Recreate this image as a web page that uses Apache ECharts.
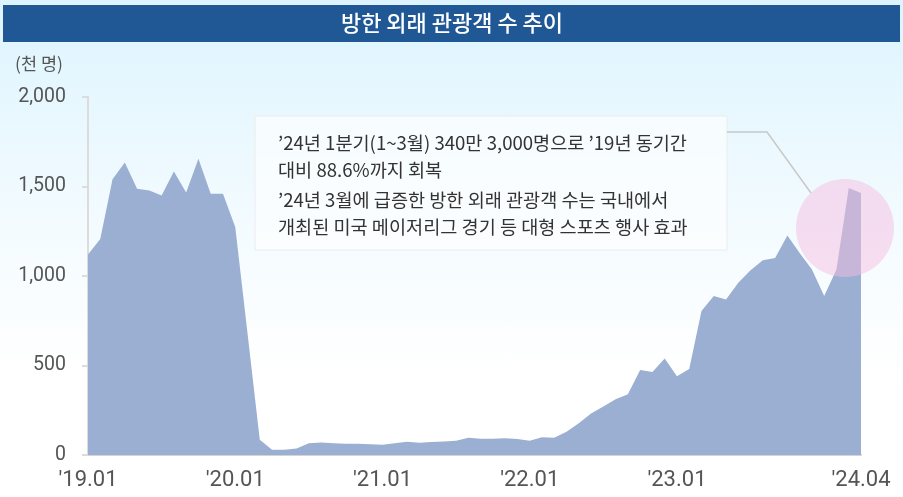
<!DOCTYPE html>
<html>
<head>
<meta charset="utf-8">
<script src="https://cdn.jsdelivr.net/npm/echarts@6/dist/echarts.min.js"></script>
<style>
  html, body { margin: 0; padding: 0; }
  body { background: linear-gradient(to bottom, #ddf4fe 0%, #f3fbff 45%, #ffffff 75%); }
  #chart { width: 903px; height: 497px; }
</style>
</head>
<body>
<div id="chart"></div>
<script>
// 월별 방한 외래 관광객 수 (천 명), '19.01 ~ '24.04
const years = ['19', '20', '21', '22', '23', '24']
const months = []
years.forEach(y => {
  for (let m = 1; m <= 12; m++) {
    if (y === '24' && m > 4) break
    months.push("'" + y + '.' + String(m).padStart(2, '0'))
  }
})

const visitors = [
  1120, 1207, 1541, 1634, 1487, 1478, 1450, 1584, 1467, 1655, 1460, 1460,
  1274, 680, 85, 30, 30, 37, 65, 70, 65, 63, 63, 60,
  57, 65, 74, 68, 72, 76, 80, 96, 91, 91, 93, 89,
  80, 99, 96, 130, 178, 232, 271, 312, 340, 475, 464, 539,
  440, 481, 804, 888, 869, 962, 1032, 1088, 1101, 1226, 1129, 1036,
  888, 1036, 1491, 1463
]

const shownLabels = [0, 12, 24, 36, 48, 63]
const yTicks = [0, 500, 1000, 1500, 2000]

const noteLines = [
  '’24년 1분기(1~3월) 340만 3,000명으로 ’19년 동기간',
  '대비 88.6%까지 회복',
  '’24년 3월에 급증한 방한 외래 관광객 수는 국내에서',
  '개최된 미국 메이저리그 경기 등 대형 스포츠 행사 효과'
]

const font = "Roboto, 'Noto Sans CJK KR', sans-serif"
const chart = echarts.init(document.getElementById('chart'))

const option = {
  backgroundColor: 'transparent',
  textStyle: { fontFamily: font },
  grid: { left: 88, right: 42, top: 97, bottom: 42 },
  xAxis: {
    type: 'category',
    data: months,
    boundaryGap: false,
    axisLine: { lineStyle: { color: '#d4d4d4', width: 2 } },
    axisTick: { show: false },
    axisLabel: {
      interval: i => shownLabels.includes(i),
      color: '#555',
      fontSize: 22,
      margin: 14,
      fontFamily: font
    },
    splitLine: { show: false }
  },
  yAxis: {
    type: 'value',
    min: yTicks[0],
    max: yTicks[yTicks.length - 1],
    interval: 500,
    axisLine: { show: true, lineStyle: { color: '#dcdcdc', width: 2 } },
    axisTick: { show: true, length: 6, lineStyle: { color: '#dcdcdc', width: 2 } },
    axisLabel: {
      color: '#555',
      fontSize: 19.5,
      margin: 22,
      fontFamily: font,
      formatter: v => v.toLocaleString('en-US')
    },
    splitLine: { show: false }
  },
  series: [
    {
      type: 'line',
      data: visitors,
      symbol: 'none',
      lineStyle: { width: 0 },
      areaStyle: { color: '#9aafd1', opacity: 1 },
      z: 2
    }
  ],
  graphic: [
    // 제목 바
    {
      type: 'rect',
      shape: { x: 3, y: 5, width: 897, height: 37 },
      style: { fill: '#1f5895' },
      z: 10
    },
    {
      type: 'text',
      x: 452, y: 23,
      style: {
        text: '방한 외래 관광객 수 추이',
        fill: '#fff',
        font: "500 22px 'Noto Sans CJK KR'",
        textAlign: 'center',
        textVerticalAlign: 'middle'
      },
      z: 11
    },
    {
      type: 'text',
      x: 15, y: 63,
      style: {
        text: '(천 명)',
        fill: '#555',
        font: "17.5px 'Noto Sans CJK KR'",
        textVerticalAlign: 'middle'
      }
    },
    // 설명 박스
    {
      type: 'rect',
      shape: { x: 255, y: 116, width: 472, height: 134 },
      style: { fill: 'rgba(255,255,255,0.6)', stroke: '#ececec', lineWidth: 1 },
      z: 5
    },
    ...noteLines.map((t, i) => ({
      type: 'text',
      x: 278,
      y: [143, 170, 200, 227][i],
      style: {
        text: t,
        fill: '#333',
        font: "18.6px 'Noto Sans CJK KR'",
        textVerticalAlign: 'middle'
      },
      z: 6
    })),
    // 연결선
    {
      type: 'polyline',
      shape: { points: [[727, 132], [767, 132], [811, 193]] },
      style: { stroke: '#c8c8c8', lineWidth: 1.5, fill: null },
      z: 5
    },
    // 강조 원
    {
      type: 'circle',
      shape: { cx: 845, cy: 228, r: 49 },
      style: { fill: 'rgba(245,190,225,0.5)' },
      z: 20
    }
  ]
}

chart.setOption(option)
</script>
</body>
</html>
